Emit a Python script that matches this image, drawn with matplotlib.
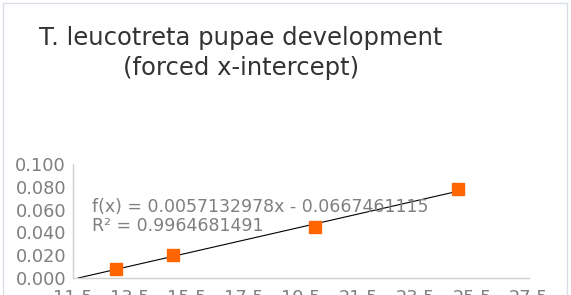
import matplotlib
matplotlib.use("Agg")
import matplotlib.pyplot as plt
import numpy as np
from matplotlib.patches import Rectangle

plt.rcParams["font.family"] = ["DejaVu Sans"]

# data
temperature = [13, 15, 20, 25]
dev_rate = [0.008, 0.020, 0.045, 0.078]

slope = 0.0057132978
intercept = -0.0667461115
r_squared = 0.9964681491

x_ticks = [11.5, 13.5, 15.5, 17.5, 19.5, 21.5, 23.5, 25.5, 27.5]
y_ticks = [0.0, 0.02, 0.04, 0.06, 0.08, 0.1]

W, H = 571, 295
fig = plt.figure(figsize=(W / 100, H / 100), dpi=100)

# light chart border
fig.patches.append(Rectangle((3 / W, -0.1), 564 / W, 1.1 - 3 / H, transform=fig.transFigure,
                             fill=False, edgecolor="#d9dee6", linewidth=1))

ax = fig.add_axes([73 / W, 17 / H, 456 / W, 114 / H])
ax.set_xlim(11.5, 27.5)
ax.set_ylim(0, 0.1)

# trendline from x-intercept to last point
x0 = -intercept / slope
xs = np.array([x0, max(temperature)])
ax.plot(xs, slope * xs + intercept, color="black", linewidth=0.8, zorder=2)
ax.plot(temperature, dev_rate, linestyle="none", marker="s", markersize=8.5,
        color="#ff6600", zorder=3)

ax.set_xticks(x_ticks)
ax.set_xticklabels([f"{t:.1f}" for t in x_ticks])
ax.set_yticks(y_ticks)
ax.set_yticklabels([f"{t:.3f}" for t in y_ticks])
ax.tick_params(length=0, labelsize=12.8, labelcolor="#7f7f7f")
ax.tick_params(axis="x", pad=8)
ax.tick_params(axis="y", pad=5)
for s in ["top", "right"]:
    ax.spines[s].set_visible(False)
for s in ["left", "bottom"]:
    ax.spines[s].set_color("#d0d0d0")
    ax.spines[s].set_linewidth(1)

fig.text(92 / W, 1 - 207 / H, f"f(x) = {slope:.10f}x - {abs(intercept):.10f}",
         fontsize=12.5, color="#7f7f7f", va="center")
fig.text(92 / W, 1 - 226 / H, f"R² = {r_squared:.10f}",
         fontsize=12.5, color="#7f7f7f", va="center")

fig.text(241 / W, 1 - 53 / H, "T. leucotreta pupae development\n(forced x-intercept)",
         fontsize=17.5, color="#333333", ha="center", va="center", linespacing=1.32)

fig.savefig("out.png", dpi=100)
